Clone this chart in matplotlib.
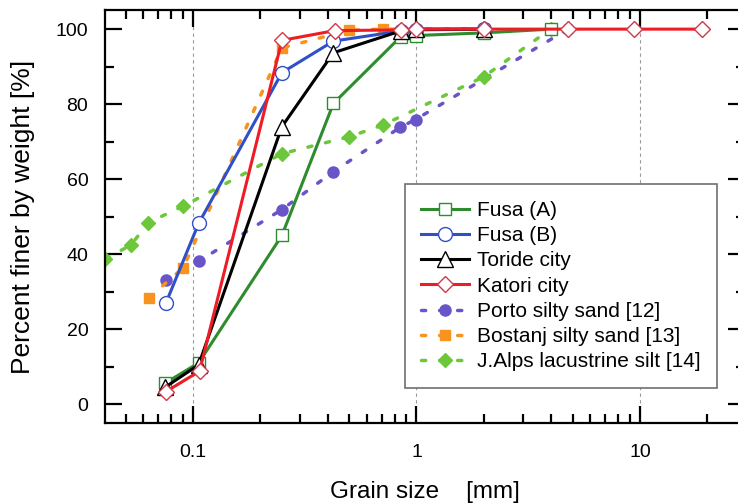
import matplotlib
matplotlib.use('Agg')
import matplotlib.pyplot as plt
from matplotlib.ticker import FixedLocator, NullFormatter, FixedFormatter

plt.rcParams['font.family'] = ['Liberation Sans', 'DejaVu Sans']

# ---- data (grain size [mm], percent finer [%]) ----
fusa_a_x = [0.075, 0.106, 0.25, 0.425, 0.85, 1.0, 2.0, 4.0]
fusa_a_y = [5.6, 11.0, 45.0, 80.2, 98.0, 98.3, 99.0, 100.0]
fusa_b_x = [0.0757, 0.106, 0.25, 0.425, 0.85, 1.0, 2.0]
fusa_b_y = [27.0, 48.2, 88.4, 96.8, 99.5, 99.8, 100.0]
toride_x = [0.075, 0.106, 0.25, 0.425, 0.85, 1.0, 2.0]
toride_y = [4.5, 10.5, 74.0, 93.7, 99.5, 100.0, 100.0]
katori_x = [0.0755, 0.107, 0.25, 0.43, 0.85, 1.0, 2.0, 4.75, 9.4, 19.0]
katori_y = [3.3, 8.8, 97.0, 99.6, 99.8, 100.0, 100.0, 100.0, 100.0, 100.0]
porto_x = [0.0755, 0.106, 0.25, 0.425, 0.845, 0.99, 4.77]
porto_y = [33.0, 38.1, 51.9, 62.0, 73.8, 75.9, 100.0]
bostanj_x = [0.0636, 0.0905, 0.25, 0.5, 0.71, 2.0]
bostanj_y = [28.4, 36.4, 95.0, 99.7, 100.0, 100.0]
jalps_x = [0.0405, 0.0528, 0.063, 0.0905, 0.25, 0.5, 0.706, 2.0, 3.98]
jalps_y = [38.8, 42.4, 48.4, 52.8, 66.8, 71.3, 74.4, 87.3, 100.0]

labels = ['Fusa (A)', 'Fusa (B)', 'Toride city', 'Katori city',
          'Porto silty sand [12]', 'Bostanj silty sand [13]',
          'J.Alps lacustrine silt [14]']
x_major = [0.1, 1, 10]
x_major_labels = ['0.1', '1', '10']

fig = plt.figure(figsize=(7.38, 5.04), dpi=100)
ax = fig.add_axes([105/738, 1-423.3/504, (745-105)/738, (423.3-10)/504])

dot = (0, (1.2, 4.0))
h = {}
h[4], = ax.plot(porto_x, porto_y, linestyle=dot, lw=2.5, color='#6a55c8',
                marker='o', ms=8, mfc='#6a55c8', mec='#6a55c8', zorder=2,
                dash_capstyle='round')
h[5], = ax.plot(bostanj_x, bostanj_y, linestyle=dot, lw=2.5, color='#f7931e',
                marker='s', ms=7.5, mfc='#f7931e', mec='#f7931e', zorder=2,
                dash_capstyle='round')
h[6], = ax.plot(jalps_x, jalps_y, linestyle=dot, lw=2.5, color='#6cc83a',
                marker='D', ms=7.5, mfc='#6cc83a', mec='#6cc83a', zorder=2,
                dash_capstyle='round')

h[0], = ax.plot(fusa_a_x, fusa_a_y, '-', lw=2.2, color='#2e8b2e',
                marker='s', ms=9, mfc='white', mec='#2e8b2e', mew=1.0, zorder=3)
h[1], = ax.plot(fusa_b_x, fusa_b_y, '-', lw=2.2, color='#3050c8',
                marker='o', ms=10, mfc='white', mec='#3050c8', mew=1.0, zorder=3)
h[2], = ax.plot(toride_x, toride_y, '-', lw=2.2, color='black',
                marker='^', ms=11, mfc='white', mec='black', mew=1.0, zorder=3)
h[3], = ax.plot(katori_x, katori_y, '-', lw=2.2, color='#ee1c24',
                marker='D', ms=8, mfc='white', mec='#d03848', mew=1.0, zorder=4)

ax.set_xscale('log')
ax.set_xlim(0.0404, 29.5)
ax.set_ylim(-5.1, 105.1)

ax.xaxis.set_major_locator(FixedLocator(x_major))
ax.xaxis.set_major_formatter(FixedFormatter(x_major_labels))
minors = [m * d for d in (0.01, 0.1, 1, 10) for m in range(2, 10)]
ax.xaxis.set_minor_locator(FixedLocator(minors))
ax.xaxis.set_minor_formatter(NullFormatter())
ax.set_yticks([0, 20, 40, 60, 80, 100])
ax.set_yticks([10, 30, 50, 70, 90], minor=True)

ax.tick_params(which='both', direction='in', top=True, right=True,
               labelsize=14, width=1.6)
ax.tick_params(which='major', length=12.5)
ax.tick_params(which='minor', length=6.5)
ax.tick_params(axis='x', pad=15)
ax.tick_params(axis='y', pad=12)
for s in ax.spines.values():
    s.set_linewidth(1.6)

for xv in x_major:
    ax.axvline(xv, color='#9a9a9a', lw=0.8, linestyle=(0, (3, 3)), zorder=1)

ax.set_xlabel('Grain size    [mm]', fontsize=17.5, labelpad=14)
ax.set_ylabel('Percent finer by weight [%]', fontsize=19, labelpad=15)

leg = ax.legend([h[i] for i in range(7)], labels, loc='lower right',
                bbox_to_anchor=(0.956, 0.0854), borderaxespad=0,
                fontsize=15, handlelength=2.3, handletextpad=0.35,
                labelspacing=0.3, borderpad=0.8, fancybox=False,
                framealpha=1, edgecolor='#707070')
leg.get_frame().set_linewidth(1.2)

fig.savefig('out.png', dpi=100)
